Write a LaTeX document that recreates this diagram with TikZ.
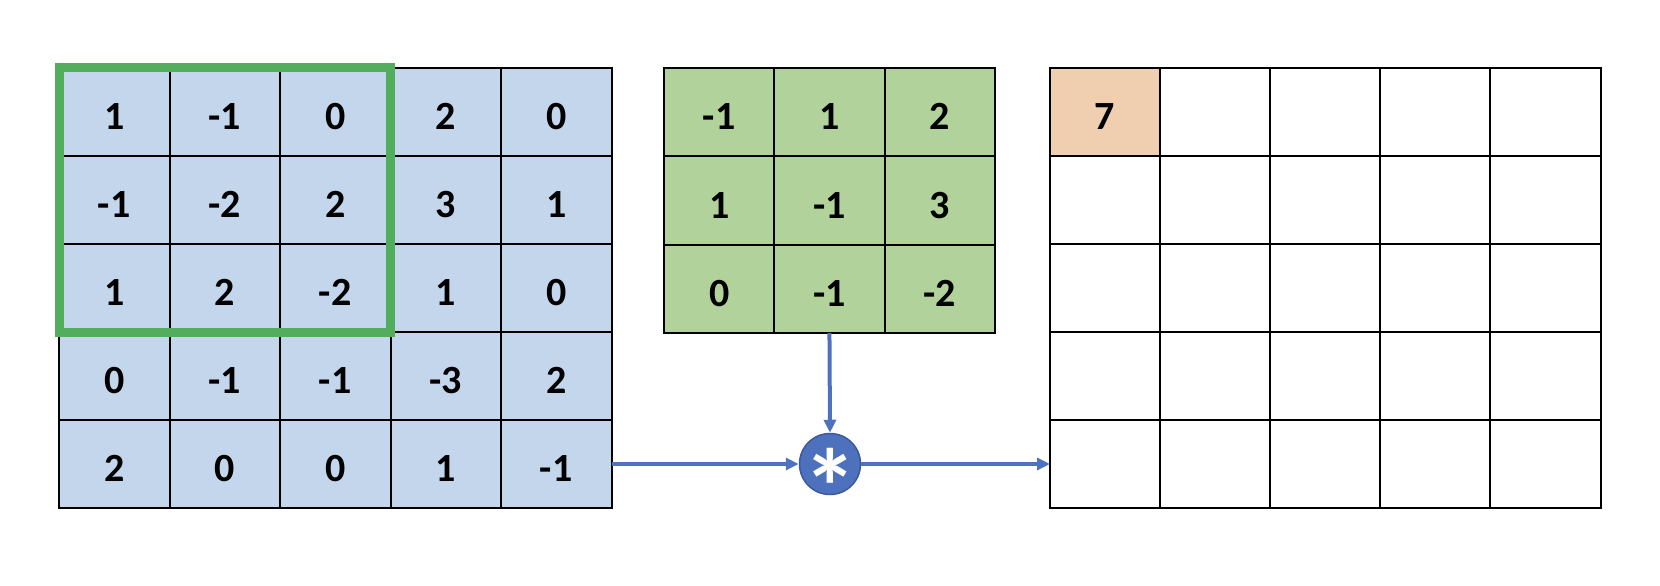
\documentclass[tikz,border=0pt]{standalone}
\usepackage{fontspec}
\setmainfont{Carlito}
\usetikzlibrary{arrows.meta}
\definecolor{inblue}{HTML}{C3D6EC}
\definecolor{kergreen}{HTML}{B1D29A}
\definecolor{framegreen}{HTML}{52AE5C}
\definecolor{outorange}{HTML}{F0CEB0}
\definecolor{arrblue}{HTML}{4E72C0}
\definecolor{circfill}{HTML}{4E71BE}
\definecolor{circdraw}{HTML}{3A5A9C}
\begin{document}
\begin{tikzpicture}[x=1pt,y=-1pt,
  cellbase/.style={draw=black, line width=2pt, rectangle, outer sep=0pt, inner sep=0pt,
    font=\fontsize{40}{48}\selectfont\bfseries, text height=35.5pt, text depth=0pt},
  cellA/.style={cellbase, fill=inblue, minimum width=110.5pt, minimum height=88pt},
  cellB/.style={cellbase, fill=kergreen, minimum width=110.3pt, minimum height=88.3pt},
  cellC/.style={cellbase, fill=white, minimum width=110.1pt, minimum height=88pt},
  arr/.style={draw=arrblue, line width=4pt, -{Triangle[length=13pt,width=12pt]}},
  convop/.style={circle, fill=circfill, draw=circdraw, line width=1.5pt, minimum size=61pt,
    inner sep=0pt, text=white, font=\fontsize{108}{108}\selectfont\bfseries,
    text height=0pt, text depth=0pt}
]
\useasboundingbox (0,0) rectangle (1660,586);
% input matrix
\foreach \r/\row in {1/{1,-1,0,2,0},2/{-1,-2,2,3,1},3/{1,2,-2,1,0},4/{0,-1,-1,-3,2},5/{2,0,0,1,-1}}{
  \foreach \v [count=\c] in \row {
    \node[cellA] (a-\r-\c) at ({59+110.5*(\c-0.5)},{68+88*(\r-0.5)}) {\v};
  }
}
% kernel
\foreach \r/\row in {1/{-1,1,2},2/{1,-1,3},3/{0,-1,-2}}{
  \foreach \v [count=\c] in \row {
    \node[cellB] (b-\r-\c) at ({664+110.3*(\c-0.5)},{68+88.3*(\r-0.5)}) {\v};
  }
}
% output
\foreach \r in {1,...,5}{
  \foreach \c in {1,...,5}{
    \node[cellC] (c-\r-\c) at ({1050+110.1*(\c-0.5)},{68+88*(\r-0.5)}) {};
  }
}
\node[cellC, fill=outorange] (c-1-1) at ({1050+110.1*0.5},{68+88*0.5}) {7};
% green window
\draw[framegreen, line width=9pt] (a-1-1.north west) rectangle (a-3-3.south east);
% convolution operator
\node[convop] (conv) at (830,464) {\raisebox{-61pt}{\smash{*}}};
\draw[arr] (a-5-5.east) -- (conv.west);
\draw[arr] (b-3-2.south) -- (conv.north);
\draw[arr] (conv.east) -- (c-5-1.west);
\end{tikzpicture}
\end{document}
